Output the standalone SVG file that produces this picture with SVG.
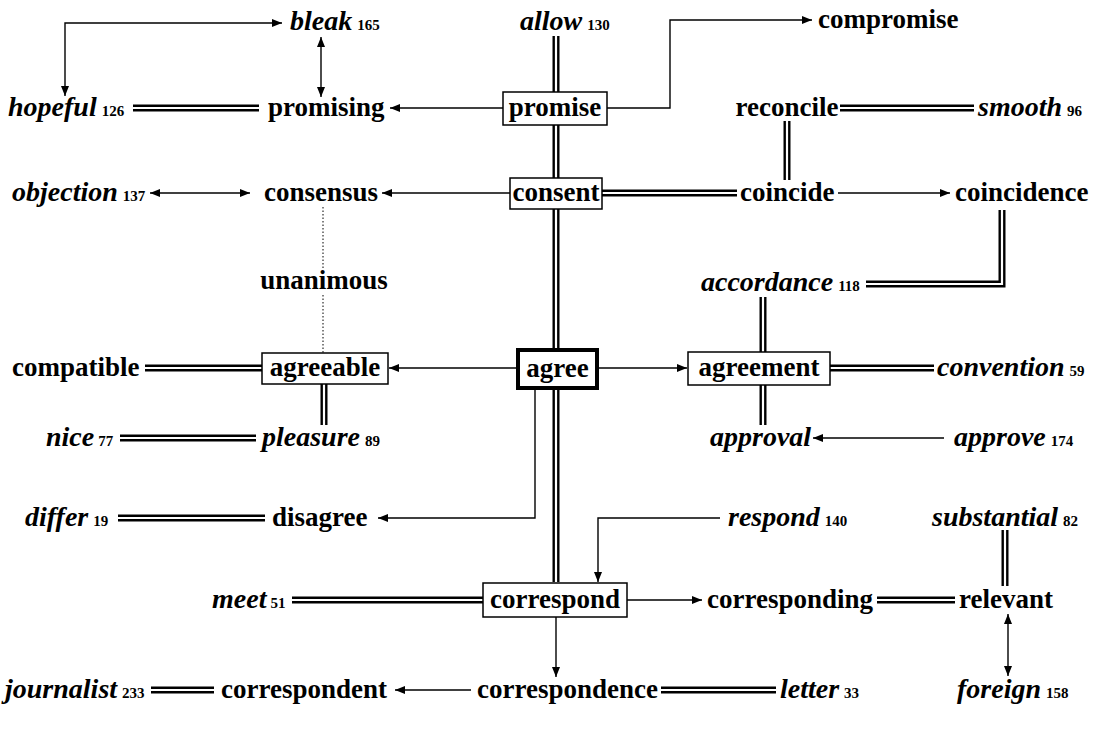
<svg xmlns="http://www.w3.org/2000/svg" xmlns:xlink="http://www.w3.org/1999/xlink" width="1095" height="729" viewBox="0 0 1095 729">
<style>
text{font-family:"Liberation Serif","Times New Roman",serif;font-weight:bold;font-size:27px;fill:#000}
.i{font-style:italic;font-size:28px}
.n{font-style:normal;font-size:15px}
.m{text-anchor:middle}
.box{fill:#fff;stroke:#000;stroke-width:1.5}
.big{stroke-width:4}
.ln{fill:none;stroke:#000;stroke-width:1.4}
.dot{fill:none;stroke:#000;stroke-width:1;stroke-dasharray:1.5 2}
.dO{fill:none;stroke:#000;stroke-width:7}
.dI{fill:none;stroke:#fff;stroke-width:2.2}
</style>
<defs>
<marker id="ah" viewBox="0 0 10 8" refX="10" refY="4" markerWidth="10" markerHeight="8" markerUnits="userSpaceOnUse" orient="auto-start-reverse"><path d="M0,0 L10,4 L0,8 z" fill="#000"/></marker>
<path id="d1" d="M556,36 V582"/>
<path id="d2" d="M133,108 H259"/>
<path id="d3" d="M840,108 H974"/>
<path id="d4" d="M787,121 V180"/>
<path id="d5" d="M602,193 H737"/>
<path id="d6" d="M866,284 H1002 V210"/>
<path id="d7" d="M763,297 V352"/>
<path id="d8" d="M145,368 H262"/>
<path id="d9" d="M324,384 V425"/>
<path id="d10" d="M830,368 H934"/>
<path id="d11" d="M763,385 V425"/>
<path id="d12" d="M120,438 H256"/>
<path id="d13" d="M118,518 H265"/>
<path id="d14" d="M1005,530 V586"/>
<path id="d15" d="M292,600 H483"/>
<path id="d16" d="M877,600 H955"/>
<path id="d17" d="M151,690 H214"/>
<path id="d18" d="M661,690 H776"/>
</defs>
<rect width="1095" height="729" fill="#fff"/>
<g id="connectors">
<g class="dO"><use href="#d1"/><use href="#d2"/><use href="#d3"/><use href="#d4"/><use href="#d5"/><use href="#d6"/><use href="#d7"/><use href="#d8"/><use href="#d9"/><use href="#d10"/><use href="#d11"/><use href="#d12"/><use href="#d13"/><use href="#d14"/><use href="#d15"/><use href="#d16"/><use href="#d17"/><use href="#d18"/></g>
<g class="dI"><use href="#d1"/><use href="#d2"/><use href="#d3"/><use href="#d4"/><use href="#d5"/><use href="#d6"/><use href="#d7"/><use href="#d8"/><use href="#d9"/><use href="#d10"/><use href="#d11"/><use href="#d12"/><use href="#d13"/><use href="#d14"/><use href="#d15"/><use href="#d16"/><use href="#d17"/><use href="#d18"/></g>
<g class="ln">
<path d="M65,96 V23 H282" marker-start="url(#ah)" marker-end="url(#ah)"/>
<path d="M321,37 V97" marker-start="url(#ah)" marker-end="url(#ah)"/>
<path d="M503,108 H390" marker-end="url(#ah)"/>
<path d="M607,108 H670 V20 H812" marker-end="url(#ah)"/>
<path d="M150,193 H250" marker-start="url(#ah)" marker-end="url(#ah)"/>
<path d="M510,193 H382" marker-end="url(#ah)"/>
<path d="M838,193 H950" marker-end="url(#ah)"/>
<path d="M518,368 H389" marker-end="url(#ah)"/>
<path d="M597,368 H687" marker-end="url(#ah)"/>
<path d="M944,438 H813" marker-end="url(#ah)"/>
<path d="M535,388 V518 H378" marker-end="url(#ah)"/>
<path d="M720,518 H598 V582" marker-end="url(#ah)"/>
<path d="M627,600 H702" marker-end="url(#ah)"/>
<path d="M556,617 V677" marker-end="url(#ah)"/>
<path d="M1008,614 V676" marker-start="url(#ah)" marker-end="url(#ah)"/>
<path d="M471,690 H395" marker-end="url(#ah)"/>
</g>
<path class="dot" d="M323,207 V268 M323,295 V353"/>
</g>
<g id="n-bleak"><text class="i" x="290" y="30">bleak<tspan class="n" dx="5">165</tspan></text></g>
<g id="n-allow"><text class="i" x="520" y="30">allow<tspan class="n" dx="5">130</tspan></text></g>
<g id="n-compromise"><text x="818" y="28">compromise</text></g>
<g id="n-hopeful"><text class="i" x="8" y="116">hopeful<tspan class="n" dx="5">126</tspan></text></g>
<g id="n-promising"><text x="268" y="116">promising</text></g>
<g id="n-promise"><rect class="box" x="503" y="92" width="104" height="33"/><text class="m" x="555" y="116">promise</text></g>
<g id="n-reconcile"><text class="m" x="787" y="116">reconcile</text></g>
<g id="n-smooth"><text class="i" x="978" y="116">smooth<tspan class="n" dx="5">96</tspan></text></g>
<g id="n-objection"><text class="i" x="12" y="201">objection<tspan class="n" dx="5">137</tspan></text></g>
<g id="n-consensus"><text x="264" y="201">consensus</text></g>
<g id="n-consent"><rect class="box" x="510" y="178" width="92" height="31"/><text class="m" x="556" y="201">consent</text></g>
<g id="n-coincide"><text x="740" y="201">coincide</text></g>
<g id="n-coincidence"><text x="955" y="201">coincidence</text></g>
<g id="n-unanimous"><text class="m" x="324" y="289">unanimous</text></g>
<g id="n-accordance"><text class="i" x="701" y="291">accordance<tspan class="n" dx="5">118</tspan></text></g>
<g id="n-compatible"><text x="12" y="376">compatible</text></g>
<g id="n-agreeable"><rect class="box" x="262" y="353" width="126" height="31"/><text class="m" x="325" y="376">agreeable</text></g>
<g id="n-agree"><rect class="box big" x="518" y="350" width="79" height="38"/><text class="m" x="557.5" y="377">agree</text></g>
<g id="n-agreement"><rect class="box" x="688" y="352" width="142" height="33"/><text class="m" x="759" y="376">agreement</text></g>
<g id="n-convention"><text class="i" x="937" y="376">convention<tspan class="n" dx="5">59</tspan></text></g>
<g id="n-nice"><text class="i" x="46" y="446">nice<tspan class="n" dx="4">77</tspan></text></g>
<g id="n-pleasure"><text class="i" x="262" y="446">pleasure<tspan class="n" dx="5">89</tspan></text></g>
<g id="n-approval"><text class="i" x="710" y="446">approval</text></g>
<g id="n-approve"><text class="i" x="954" y="446">approve<tspan class="n" dx="5">174</tspan></text></g>
<g id="n-differ"><text class="i" x="25" y="526">differ<tspan class="n" dx="5">19</tspan></text></g>
<g id="n-disagree"><text x="272" y="526">disagree</text></g>
<g id="n-respond"><text class="i" x="728" y="526">respond<tspan class="n" dx="5">140</tspan></text></g>
<g id="n-substantial"><text class="i" x="932" y="526">substantial<tspan class="n" dx="5">82</tspan></text></g>
<g id="n-meet"><text class="i" x="212" y="608">meet<tspan class="n" dx="4">51</tspan></text></g>
<g id="n-correspond"><rect class="box" x="483" y="583" width="144" height="34"/><text class="m" x="555" y="608">correspond</text></g>
<g id="n-corresponding"><text x="707" y="608">corresponding</text></g>
<g id="n-relevant"><text x="959" y="608">relevant</text></g>
<g id="n-journalist"><text class="i" x="5" y="698">journalist<tspan class="n" dx="5">233</tspan></text></g>
<g id="n-correspondent"><text x="221" y="698">correspondent</text></g>
<g id="n-correspondence"><text x="477" y="698">correspondence</text></g>
<g id="n-letter"><text class="i" x="780" y="698">letter<tspan class="n" dx="5">33</tspan></text></g>
<g id="n-foreign"><text class="i" x="957" y="698">foreign<tspan class="n" dx="5">158</tspan></text></g>
</svg>
